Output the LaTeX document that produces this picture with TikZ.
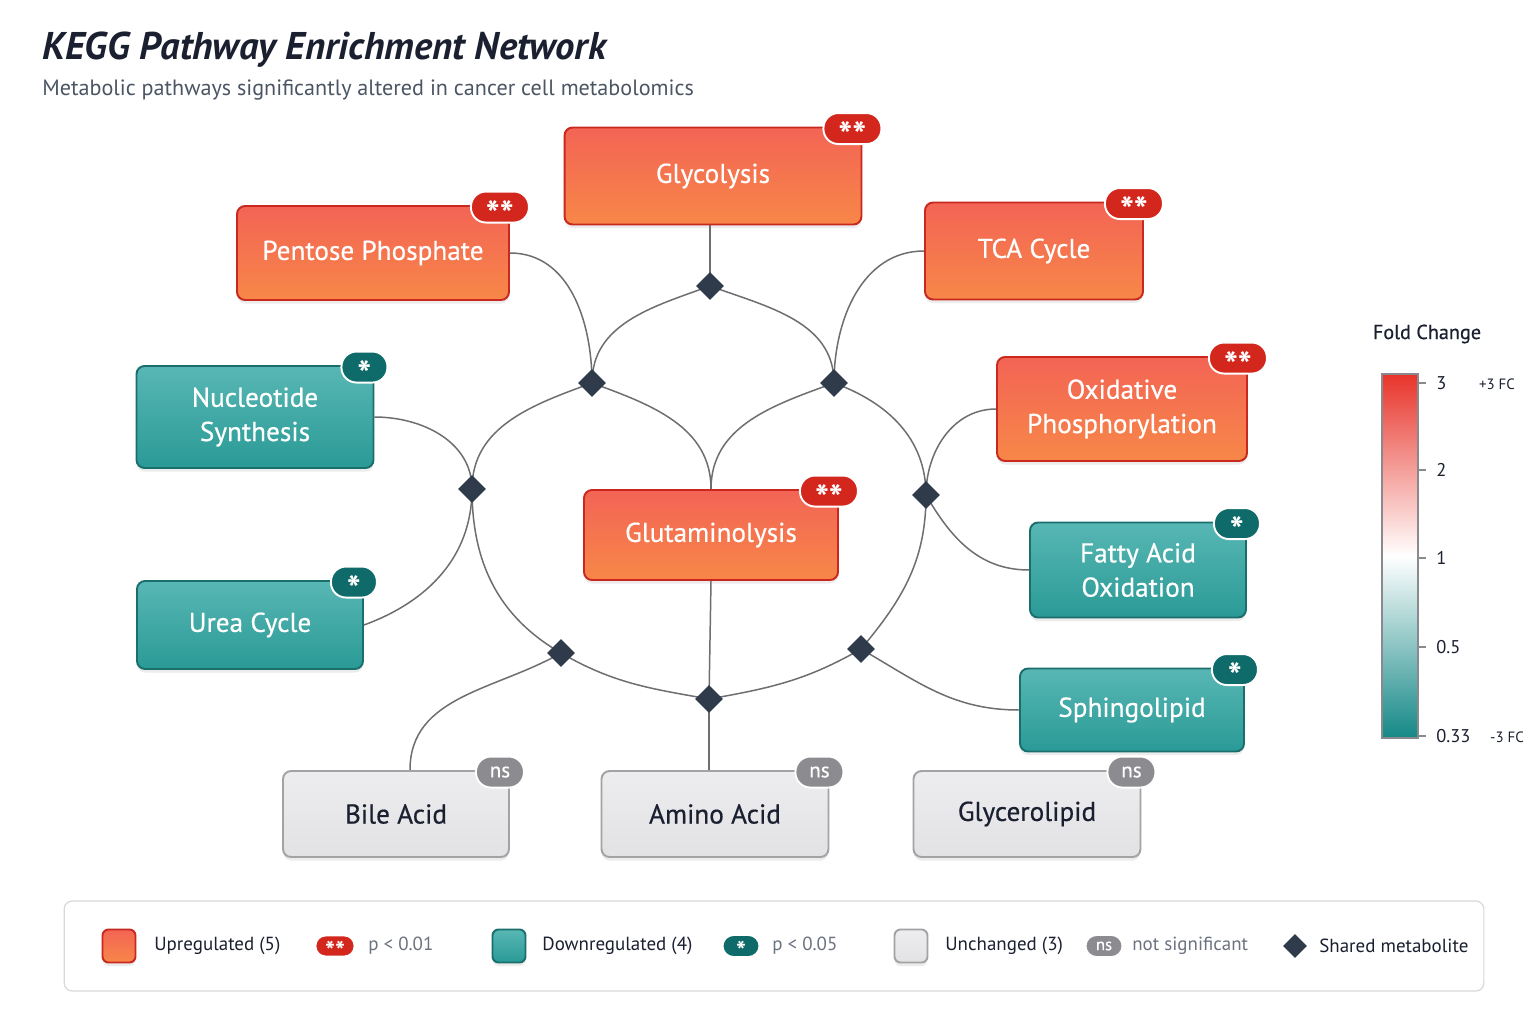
\documentclass[tikz,border=0pt]{standalone}
\usepackage{fontspec}
\setmainfont{PT Sans}
\newfontfamily\medfont{PT Sans}[FakeBold=0.5]
\usetikzlibrary{positioning,shapes.geometric,backgrounds,shadows}
\definecolor{upA}{HTML}{F36455}
\definecolor{upB}{HTML}{F78748}
\definecolor{upLine}{HTML}{C8281E}
\definecolor{dnA}{HTML}{58B7B4}
\definecolor{dnB}{HTML}{2A9A96}
\definecolor{dnLine}{HTML}{1A6F6D}
\definecolor{nsA}{HTML}{EDEDEF}
\definecolor{nsB}{HTML}{E2E2E4}
\definecolor{nsLine}{HTML}{A3A3A6}
\definecolor{starRed}{HTML}{D3261C}
\definecolor{starTeal}{HTML}{0F6B6A}
\definecolor{nsGray}{HTML}{8C8C90}
\definecolor{hubInk}{HTML}{2F3B4A}
\definecolor{wire}{HTML}{6E6E72}
\definecolor{ink}{HTML}{1A2030}
\definecolor{subInk}{HTML}{4B5563}
\definecolor{keyGray}{HTML}{6B7280}
\definecolor{legLine}{HTML}{D8D8DC}
\definecolor{barLine}{HTML}{8A8A8E}
\definecolor{fcRed}{HTML}{E8342A}
\definecolor{fcTeal}{HTML}{148886}
\tikzset{font=\fontsize{11}{13}\selectfont}
\newcommand{\stars}[1]{\smash{\raisebox{-0.55em}{#1}}}

\begin{document}
\begin{tikzpicture}[x=0.02cm,y=-0.02cm,
    every node/.style={inner sep=0pt},
    pathway/.style={rectangle,rounded corners=0.16cm,line width=1.1pt,align=center,
      font=\medfont\fontsize{15.5}{19.5}\selectfont,
      drop shadow={opacity=0.15,shadow xshift=0pt,shadow yshift=-2pt}},
    up/.style={pathway,top color=upA,bottom color=upB,draw=upLine,text=white},
    down/.style={pathway,top color=dnA,bottom color=dnB,draw=dnLine,text=white},
    flat/.style={pathway,top color=nsA,bottom color=nsB,draw=nsLine,text=ink},
    badge/.style={rectangle,rounded corners=0.3cm,minimum height=0.62cm,draw=white,line width=1.1pt,
      text=white,font=\bfseries\fontsize{21}{21}\selectfont},
    sigtwo/.style={badge,fill=starRed,minimum width=1.16cm},
    sigone/.style={badge,fill=starTeal,minimum width=0.92cm},
    nsig/.style={badge,fill=nsGray,minimum width=0.96cm,font=\medfont\fontsize{12}{12}\selectfont},
    hub/.style={diamond,fill=hubInk,minimum size=0.56cm},
    link/.style={draw=wire,line width=0.85pt},
    keytext/.style={anchor=west,text=ink,font=\fontsize{10.8}{13}\selectfont},
    keynote/.style={anchor=west,text=keyGray,font=\fontsize{10.8}{13}\selectfont},
    fctick/.style={anchor=west,text=ink,font=\fontsize{10.5}{12}\selectfont}]

      \useasboundingbox (0,0) rectangle (1536,1024);

      \node[anchor=base west,text=ink,font=\bfseries\itshape\fontsize{22}{25}\selectfont] (Title) at (42,60) {KEGG Pathway Enrichment Network};
      \node[anchor=base west,text=subInk,font=\fontsize{12.6}{14}\selectfont] (Sub) at (42,96) {Metabolic pathways significantly altered in cancer cell metabolomics};

      \node[up,minimum width=5.94cm,minimum height=1.94cm] (Gly) at (713,176) {Glycolysis};
      \node[up,minimum width=5.44cm,minimum height=1.88cm] (PP) at (373,253) {Pentose Phosphate};
      \node[up,minimum width=4.36cm,minimum height=1.94cm] (TCA) at (1034,251) {TCA Cycle};
      \node[up,minimum width=5.0cm,minimum height=2.08cm] (Ox) at (1122,409) {Oxidative\\Phosphorylation};
      \node[up,minimum width=5.08cm,minimum height=1.8cm] (Glut) at (711,535) {Glutaminolysis};

      \node[down,minimum width=4.74cm,minimum height=2.04cm] (Nuc) at (255,417) {Nucleotide\\Synthesis};
      \node[down,minimum width=4.52cm,minimum height=1.76cm] (Urea) at (250,625) {Urea Cycle};
      \node[down,minimum width=4.32cm,minimum height=1.9cm] (FA) at (1138,570) {Fatty Acid\\Oxidation};
      \node[down,minimum width=4.48cm,minimum height=1.66cm] (Sph) at (1132,710) {Sphingolipid};

      \node[flat,minimum width=4.52cm,minimum height=1.72cm] (Bile) at (396,814) {Bile Acid};
      \node[flat,minimum width=4.54cm,minimum height=1.72cm] (Amino) at (715,814) {Amino Acid};
      \node[flat,minimum width=4.54cm,minimum height=1.72cm] (Glycero) at (1027,814) {Glycerolipid};

      \node[sigtwo] (GlyB) at ([shift={(-10,2)}]Gly.north east) {\stars{**}};
      \node[sigtwo] (PPB) at ([shift={(-10,2)}]PP.north east) {\stars{**}};
      \node[sigtwo] (TCAB) at ([shift={(-10,2)}]TCA.north east) {\stars{**}};
      \node[sigtwo] (OxB) at ([shift={(-10,2)}]Ox.north east) {\stars{**}};
      \node[sigtwo] (GlutB) at ([shift={(-10,2)}]Glut.north east) {\stars{**}};
      \node[sigone] (NucB) at ([shift={(-10,2)}]Nuc.north east) {\stars{*}};
      \node[sigone] (UreaB) at ([shift={(-10,2)}]Urea.north east) {\stars{*}};
      \node[sigone] (FAB) at ([shift={(-10,2)}]FA.north east) {\stars{*}};
      \node[sigone] (SphB) at ([shift={(-10,2)}]Sph.north east) {\stars{*}};
      \node[nsig] (BileB) at ([shift={(-10,2)}]Bile.north east) {ns};
      \node[nsig] (AminoB) at ([shift={(-10,2)}]Amino.north east) {ns};
      \node[nsig] (GlyceroB) at ([shift={(-10,2)}]Glycero.north east) {ns};

      \node[hub] (H1) at (710,286) {};
      \node[hub] (H2) at (592,383) {};
      \node[hub] (H3) at (834,383) {};
      \node[hub] (H4) at (472,489) {};
      \node[hub] (H5) at (926,495) {};
      \node[hub] (H6) at (561,653) {};
      \node[hub] (H7) at (709,699) {};
      \node[hub] (H8) at (861,649) {};

      \node[text=ink,font=\medfont\fontsize{11.5}{13}\selectfont] (FoldT) at (1427,334) {Fold Change};
      \shade[top color=fcRed,bottom color=fcTeal,middle color=white] (1382,374) rectangle (1418,738);
      \draw[barLine,line width=0.6pt] (1382,374) rectangle (1418,738);
      \draw[barLine,line width=0.6pt] (1418,383) -- (1426,383);
      \draw[barLine,line width=0.6pt] (1418,470) -- (1426,470);
      \draw[barLine,line width=0.6pt] (1418,558) -- (1426,558);
      \draw[barLine,line width=0.6pt] (1418,647) -- (1426,647);
      \draw[barLine,line width=0.6pt] (1418,736) -- (1426,736);
      \node[fctick] (FC3) at (1436,383) {3};
      \node[fctick] (FC2) at (1436,470) {2};
      \node[fctick] (FC1) at (1436,558) {1};
      \node[fctick] (FCh) at (1436,647) {0.5};
      \node[fctick] (FCt) at (1436,736) {0.33};
      \node[text=ink,font=\fontsize{8.5}{10}\selectfont] (FCup) at (1497,384) {+3 FC};
      \node[text=ink,font=\fontsize{8.5}{10}\selectfont] (FCdn) at (1507,737) {-3 FC};

      \node[draw=legLine,fill=white,rounded corners=0.16cm,line width=0.7pt,minimum width=28.4cm,minimum height=1.8cm] (Legend) at (774,946) {};
      \node[up,minimum size=0.66cm,rounded corners=0.12cm] (KeyUp) at (119,946) {};
      \node[keytext] (KeyUpT) at (154,946) {Upregulated (5)};
      \node[sigtwo,minimum width=0.78cm,minimum height=0.42cm,rounded corners=0.2cm,font=\bfseries\fontsize{15}{15}\selectfont] (KeyTwo) at (335,946) {\stars{**}};
      \node[keynote] (KeyTwoT) at (368,946) {p < 0.01};
      \node[down,minimum size=0.66cm,rounded corners=0.12cm] (KeyDn) at (509,946) {};
      \node[keytext] (KeyDnT) at (542,946) {Downregulated (4)};
      \node[sigone,minimum width=0.74cm,minimum height=0.44cm,rounded corners=0.22cm,font=\bfseries\fontsize{15}{15}\selectfont] (KeyOne) at (741,946) {\stars{*}};
      \node[keynote] (KeyOneT) at (772,946) {p < 0.05};
      \node[flat,minimum size=0.66cm,rounded corners=0.12cm] (KeyNs) at (911,946) {};
      \node[keytext] (KeyNsT) at (945,946) {Unchanged (3)};
      \node[nsig,minimum width=0.74cm,minimum height=0.44cm,rounded corners=0.22cm,font=\medfont\fontsize{9.5}{10}\selectfont] (KeyNo) at (1104,946) {ns};
      \node[keynote] (KeyNoT) at (1132,946) {not significant};
      \node[hub,minimum size=0.48cm] (KeyHub) at (1295,946) {};
      \node[keytext] (KeyHubT) at (1319,946) {Shared metabolite};

      \begin{pgfonlayer}{background}
      \fill[white] (0,0) rectangle (1536,1024);
      \path [link](H1 |- Gly.south) edge (H1.center);
      \path [link](PP.east) edge[out=0,in=90] (H2.center);
      \path [link](H1.center) edge[out=200,in=90] (H2.center);
      \path [link](H1.center) edge[out=-20,in=90] (H3.center);
      \path [link](TCA.west) edge[out=180,in=90] (H3.center);
      \path [link](H2.center) edge[out=200,in=90] (H4.center);
      \path [link](H2.center) edge[out=-20,in=90] (Glut.north);
      \path [link](H3.center) edge[out=200,in=90] (Glut.north);
      \path [link](H3.center) edge[out=-20,in=90] (H5.center);
      \path [link](Nuc.east) edge[out=0,in=90] (H4.center);
      \path [link](Urea.east) edge[out=20,in=-90] (H4.center);
      \path [link](H4.center) edge[out=-90,in=150] (H6.center);
      \path [link](Ox.west) edge[out=180,in=90] (H5.center);
      \path [link](FA.west) edge[out=180,in=-60] (H5.center);
      \path [link](H5.center) edge[out=-90,in=50] (H8.center);
      \path [link](H6.center) edge[out=-30,in=170] (H7.center);
      \path [link](H8.center) edge[out=210,in=10] (H7.center);
      \path [link](Glut.south) edge (H7.center);
      \path [link](H7.center) edge (H7 |- Amino.north);
      \path [link](H6.center) edge[out=210,in=90] ([xshift=0.28cm]Bile.north);
      \path [link](H8.center) edge[out=-30,in=180] (Sph.west);
      \end{pgfonlayer}
\end{tikzpicture}
\end{document}
